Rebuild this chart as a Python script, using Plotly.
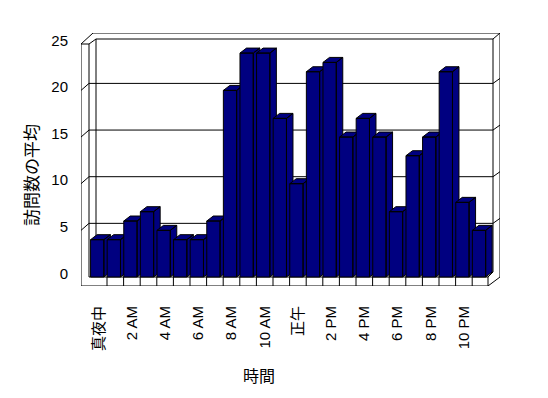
import plotly.graph_objects as go

# ---- data ----
categories = ["真夜中", "1 AM", "2 AM", "3 AM", "4 AM", "5 AM", "6 AM", "7 AM",
              "8 AM", "9 AM", "10 AM", "11 AM", "正午", "1 PM", "2 PM", "3 PM",
              "4 PM", "5 PM", "6 PM", "7 PM", "8 PM", "9 PM", "10 PM", "11 PM"]
visits = [4, 4, 6, 7, 5, 4, 4, 6, 20, 24, 24, 17, 10, 22, 23, 15, 17, 15, 7, 13, 15, 22, 8, 5]
tick_idx = [0, 2, 4, 6, 8, 10, 12, 14, 16, 18, 20, 22]
tick_labels = ["真夜中", "2 AM", "4 AM", "6 AM", "8 AM", "10 AM", "正午", "2 PM", "4 PM", "6 PM", "8 PM", "10 PM"]
y_ticks = [0, 5, 10, 15, 20, 25]
x_title = "時間"
y_title = "訪問数の平均"

# ---- geometry (pixel mapping of the front plane) ----
PX0, PITCH = 90.4, 16.6      # left edge of first category, px per category
PY0, PPU = 277.0, 9.33       # pixel of y=0, px per unit
L, R, T, B = 81, 500, 33, 286

def X(px):
    return -0.5 + (px - PX0) / PITCH

def Y(py):
    return (PY0 - py) / PPU

NAVY = "#000080"
FONT = "Liberation Sans, Arial, Noto Sans CJK JP"
CLEAR = "rgba(0,0,0,0)"

fig = go.Figure()

# bars drawn as 3D prisms (front, side, top)
w = 13.3 / PITCH
ddx = 6.5 / PITCH
ddy = 5.0 / PPU
for i, h in enumerate(visits):
    xl = i - 0.5 + 0.01
    xr = xl + w
    xs = [xl, xr, xr, xl, xl, None,
          xr, xr + ddx, xr + ddx, xr, xr, None,
          xl, xl + ddx, xr + ddx, xr, xl]
    ys = [0, 0, h, h, 0, None,
          0, ddy, h + ddy, h, 0, None,
          h, h + ddy, h + ddy, h, h]
    fig.add_trace(go.Scatter(x=xs, y=ys, mode="lines", fill="toself",
                             fillcolor=NAVY, line=dict(color="black", width=1),
                             hoverinfo="skip", showlegend=False))

shapes = []
def seg(p1, p2):
    shapes.append(dict(type="line", xref="x", yref="y",
                       x0=X(p1[0]), y0=Y(p1[1]), x1=X(p2[0]), y1=Y(p2[1]),
                       line=dict(color="black", width=1), layer="below"))

# walls / box
seg((81, 44), (81, 286))
seg((89, 44), (89, 277))
seg((81, 44), (89, 44))
seg((81, 44), (93, 33))
seg((89, 44), (96, 39))
seg((93, 33), (500, 33))
seg((96, 39), (493, 39))
seg((96, 39), (96, 272))
seg((493, 39), (493, 272))
seg((500, 33), (500, 277))
seg((493, 39), (500, 33))
# floor
seg((81, 286), (488, 286))
seg((89, 277), (488, 277))
seg((488, 277), (488, 286))
seg((488, 286), (500, 277))
seg((488, 277), (493, 272))
for k in range(1, 24):
    px = PX0 + k * PITCH
    seg((px, 277), (px, 286))
# gridlines
for v in y_ticks[1:-1]:
    f = PY0 - v * PPU
    seg((81, f), (89, f - 7))
    seg((89, f - 7), (493, f - 7))
    seg((493, f - 7), (500, f - 12))

fig.update_layout(
    width=548, height=398,
    margin=dict(l=L, r=548 - R, t=T, b=398 - B, autoexpand=False),
    paper_bgcolor="white", plot_bgcolor="white",
    shapes=shapes,
    showlegend=False,
    font=dict(family=FONT, size=15, color="black"),
    xaxis=dict(range=[X(L), X(R)], showgrid=False, zeroline=False, showline=False,
               tickmode="array", tickvals=tick_idx, ticktext=tick_labels,
               tickangle=-90, ticks="outside", ticklen=13, tickcolor=CLEAR,
               tickfont=dict(family=FONT, size=15, color="black"),
               fixedrange=True, automargin=False),
    yaxis=dict(range=[Y(B), Y(T)], showgrid=False, zeroline=False, showline=False,
               tickmode="array", tickvals=[v + 3.5 / PPU for v in y_ticks],
               ticktext=[str(v) for v in y_ticks], ticks="outside", ticklen=9,
               tickcolor=CLEAR, tickfont=dict(family=FONT, size=15, color="black"),
               fixedrange=True, automargin=False),
    annotations=[
        dict(text=x_title, xref="paper", yref="paper",
             x=(259 - L) / (R - L), y=(B - 375) / (B - T),
             xanchor="center", yanchor="middle",
             showarrow=False, font=dict(size=16, family="Noto Sans CJK JP")),
        dict(text=y_title, xref="paper", yref="paper",
             x=(30 - L) / (R - L), y=(B - 175) / (B - T), textangle=-90,
             xanchor="center", yanchor="middle",
             showarrow=False, font=dict(size=17, family="Noto Sans CJK JP")),
    ],
)

fig.write_html("out.html", config={"displayModeBar": False},
               post_script="document.body.style.margin='0';document.body.style.padding='0';")
